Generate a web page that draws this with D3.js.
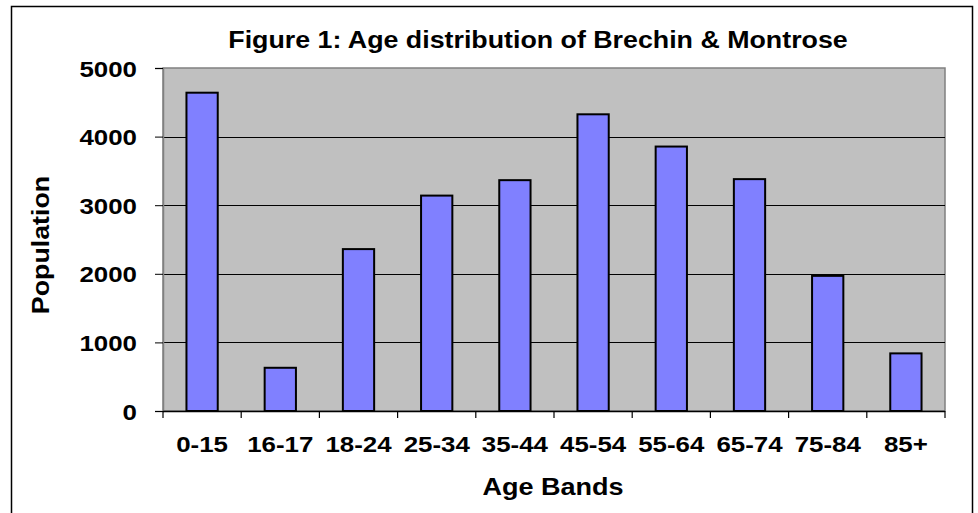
<!DOCTYPE html>
<html>
<head>
<meta charset="utf-8">
<script src="https://cdn.jsdelivr.net/npm/d3@7"></script>
<style>
  html, body { margin: 0; padding: 0; background: #fff; }
  svg { display: block; }
  text { font-family: "Liberation Sans", Arial, sans-serif; font-weight: bold; fill: #000; }
</style>
</head>
<body>
<svg id="chart" width="978" height="513"></svg>
<script>
// Age bands and population counts
const ageBands = ["0-15", "16-17", "18-24", "25-34", "35-44", "45-54", "55-64", "65-74", "75-84", "85+"];
const population = [4640, 630, 2360, 3140, 3365, 4325, 3855, 3380, 1970, 840];
const yTicks = [0, 1000, 2000, 3000, 4000, 5000];

const titleText = "Figure 1: Age distribution of Brechin & Montrose";
const xTitle = "Age Bands";
const yTitle = "Population";

const svg = d3.select("#chart");

// Plot area bounds
const plot = { left: 163, right: 945, top: 68, bottom: 411 };
const stretch = 1.15; // labels are set slightly wide

// Outer chart frame
svg.append("rect")
  .attr("x", 11.5).attr("y", 6.5)
  .attr("width", 961).attr("height", 520)
  .attr("fill", "#fff").attr("stroke", "#000").attr("stroke-width", 1.5);

const x = d3.scaleBand().domain(ageBands).range([plot.left, plot.right]).padding(0);
const y = d3.scaleLinear().domain([0, 5000]).range([plot.bottom, plot.top]);

// Plot background
svg.append("rect")
  .attr("x", plot.left).attr("y", plot.top)
  .attr("width", plot.right - plot.left).attr("height", plot.bottom - plot.top)
  .attr("fill", "#c0c0c0")
  .attr("stroke", "#808080").attr("stroke-width", 1.5);

// Horizontal gridlines
svg.append("g")
  .selectAll("line")
  .data(yTicks.filter(d => d > 0 && d < 5000))
  .join("line")
  .attr("x1", plot.left).attr("x2", plot.right)
  .attr("y1", d => Math.round(y(d)) + 0.5).attr("y2", d => Math.round(y(d)) + 0.5)
  .attr("stroke", "#000").attr("stroke-width", 1);

// Bars (gap width 150% of bar width)
const barW = x.bandwidth() / 2.5;
svg.append("g")
  .selectAll("rect")
  .data(ageBands.map((b, i) => ({ band: b, value: population[i] })))
  .join("rect")
  .attr("x", d => x(d.band) + (x.bandwidth() - barW) / 2)
  .attr("y", d => y(d.value))
  .attr("width", barW)
  .attr("height", d => y(0) - y(d.value))
  .attr("fill", "#8080ff")
  .attr("stroke", "#000").attr("stroke-width", 2);

// Y axis
const yAxis = svg.append("g")
  .attr("transform", `translate(${plot.left},0)`)
  .call(d3.axisLeft(y).tickValues(yTicks).tickSize(8).tickPadding(0).tickFormat(d3.format("d")));
yAxis.select(".domain").attr("stroke", "#808080").attr("stroke-width", 1.5);
yAxis.selectAll(".tick line").attr("stroke", "#000");
yAxis.selectAll(".tick text")
  .attr("x", null).attr("dy", null)
  .attr("text-anchor", "end")
  .style("font-size", "22.5px")
  .style("font-family", "'Liberation Sans', Arial, sans-serif")
  .style("font-weight", "bold")
  .attr("transform", `translate(-26,8) scale(${stretch},1)`);

// X axis: ticks at category boundaries, labels centred in each band
const xAxisG = svg.append("g").attr("transform", `translate(0,${plot.bottom})`);
xAxisG.append("line")
  .attr("x1", plot.left).attr("x2", plot.right)
  .attr("y1", 0.5).attr("y2", 0.5)
  .attr("stroke", "#000").attr("stroke-width", 1.5);
const boundaries = ageBands.map(b => x(b)).concat([plot.right]);
xAxisG.selectAll("line.tick")
  .data(boundaries)
  .join("line")
  .attr("class", "tick")
  .attr("x1", d => d).attr("x2", d => d)
  .attr("y1", 0).attr("y2", 7)
  .attr("stroke", "#000").attr("stroke-width", 1.2);
xAxisG.selectAll("text")
  .data(ageBands)
  .join("text")
  .attr("text-anchor", "middle")
  .style("font-size", "22.5px")
  .attr("transform", d => `translate(${x(d) + x.bandwidth() / 2},41) scale(${stretch},1)`)
  .text(d => d);

// Title
svg.append("text")
  .attr("text-anchor", "middle")
  .style("font-size", "23.3px")
  .attr("transform", `translate(538,48) scale(${stretch},1)`)
  .text(titleText);

// Axis titles
svg.append("text")
  .attr("text-anchor", "middle")
  .style("font-size", "23.5px")
  .attr("transform", `translate(553,495) scale(${stretch},1)`)
  .text(xTitle);

svg.append("text")
  .attr("text-anchor", "middle")
  .style("font-size", "23.3px")
  .attr("transform", `translate(49,245) rotate(-90) scale(${stretch},1)`)
  .text(yTitle);
</script>
</body>
</html>
